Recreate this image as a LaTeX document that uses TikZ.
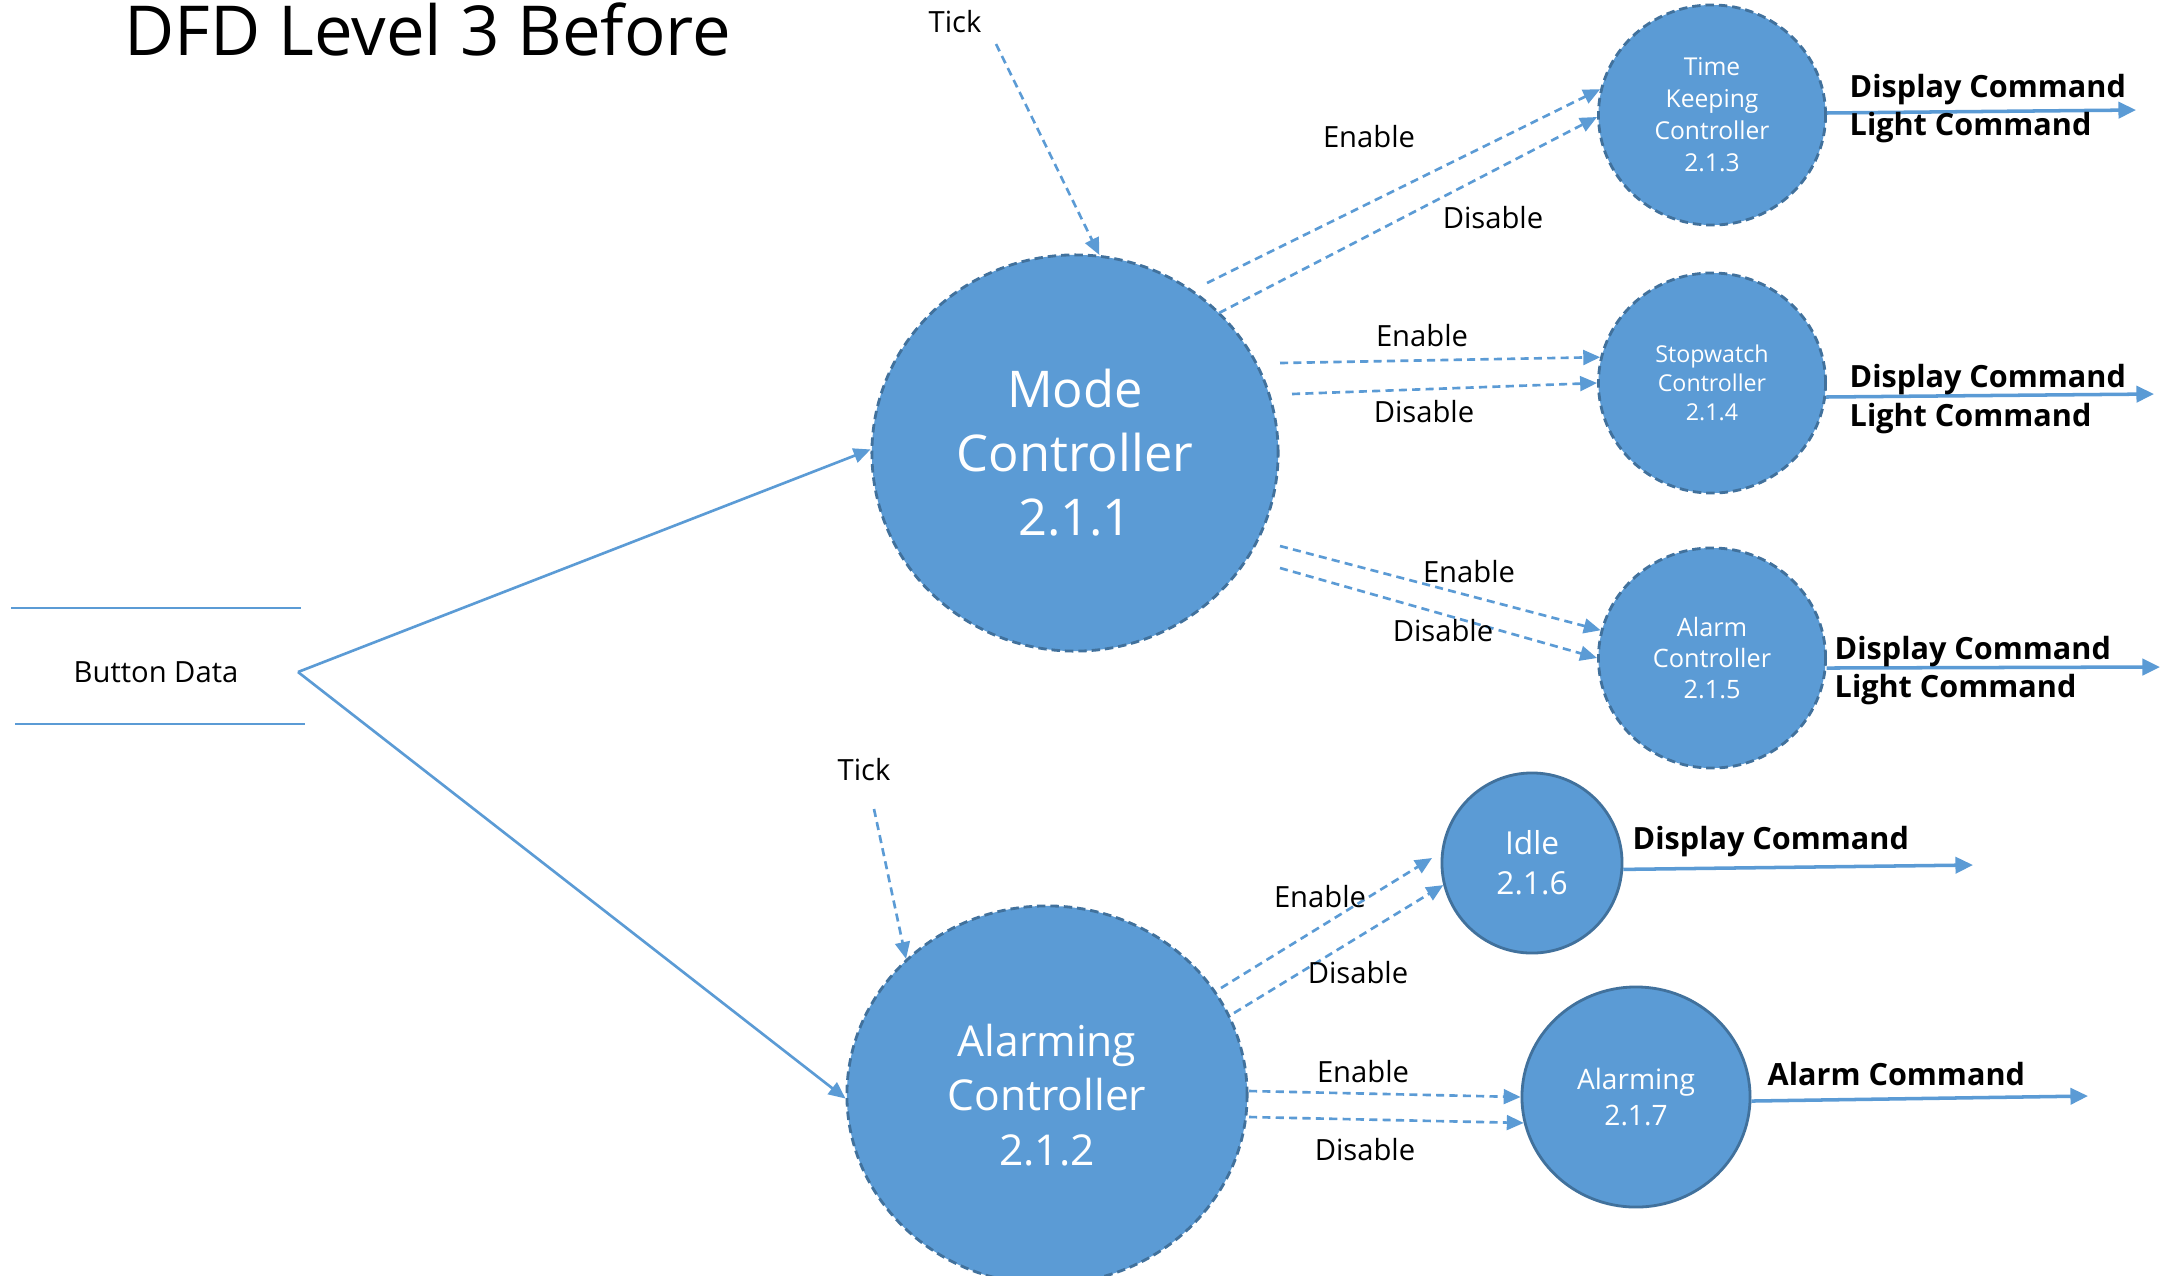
\documentclass[tikz,border=0pt]{standalone}
\usepackage{fontspec}
\setmainfont{Open Sans}
\usetikzlibrary{shapes.geometric,arrows.meta}
\definecolor{fillblue}{HTML}{5B9BD5}
\definecolor{edgeblue}{HTML}{41719C}
\tikzset{
  proc/.style={ellipse, fill=fillblue, draw=edgeblue, line width=0.8pt, dash pattern=on 2.4pt off 1.4pt, text=white, align=center, inner sep=0pt},
  solidproc/.style={proc, solid},
  flow/.style={draw=fillblue, line width=0.75pt, dash pattern=on 2.3pt off 1.5pt, -{Triangle[length=4.8pt,width=4.2pt]}},
  inflow/.style={draw=fillblue, line width=0.75pt, -{Triangle[length=4.8pt,width=4.2pt]}},
  outflow/.style={draw=fillblue, line width=1pt, -{Triangle[length=5pt,width=4.6pt]}},
  storeline/.style={draw=fillblue, line width=0.8pt},
  lbl/.style={font=\fontsize{8.3}{10}\selectfont, anchor=base, inner sep=0pt},
  cmd/.style={font=\bfseries\fontsize{8.7}{10}\selectfont, anchor=base west, inner sep=0pt}
}
\begin{document}
\begin{tikzpicture}[x=0.01cm, y=-0.01cm]
\clip (0,0) rectangle (2167,1275);
\fill[white] (0,0) rectangle (2167,1275);

% title
\node[anchor=base west, inner sep=0pt, font=\fontsize{19.6}{23}\selectfont] (title) at (124,55) {DFD Level 3 Before};

% processes
\node[proc, minimum width=4.06cm, minimum height=3.96cm, font=\fontsize{14.4}{18.2}\selectfont] (mode) at (1075,453) {Mode\\Controller\\2.1.1};
\node[proc, minimum width=4.0cm, minimum height=3.78cm, font=\fontsize{12.1}{15.4}\selectfont] (ac) at (1047,1095) {Alarming\\Controller\\2.1.2};
\node[proc, minimum width=2.27cm, minimum height=2.2cm, font=\fontsize{7}{9.1}\selectfont] (tk) at (1712,115) {Time\\Keeping\\Controller\\2.1.3};
\node[proc, minimum width=2.27cm, minimum height=2.2cm, font=\fontsize{6.6}{8.2}\selectfont] (sw) at (1712,383) {Stopwatch\\Controller\\2.1.4};
\node[proc, minimum width=2.27cm, minimum height=2.2cm, font=\fontsize{7.2}{8.9}\selectfont] (al) at (1712,658) {Alarm\\Controller\\2.1.5};
\node[solidproc, minimum width=1.8cm, minimum height=1.8cm, font=\fontsize{9}{11.4}\selectfont] (idle) at (1532,863) {Idle\\2.1.6};
\node[solidproc, minimum width=2.28cm, minimum height=2.2cm, font=\fontsize{8}{10}\selectfont] (alarm) at (1636,1097) {Alarming\\2.1.7};

% button data store
\draw[storeline] (11,608) -- (301,608);
\draw[storeline] (15,724) -- (305,724);
\node[lbl] (bd) at (156,682) {Button Data};
\coordinate (bdv) at (298,672);
\draw[inflow] (bdv) -- (mode.179);
\draw[inflow] (bdv) -- (ac.181);

% ticks
\node[lbl] (tick1) at (955,32) {Tick};
\node[lbl] (tick2) at (864,780) {Tick};
\coordinate (t1s) at (996,44);
\coordinate (t2s) at (874,809);
\draw[flow] (t1s) -- (mode.83);
\draw[flow] (t2s) -- (ac.136);

% mode -> time keeping
\coordinate (m1) at (1207,283);
\coordinate (m2) at (1219,313);
\draw[flow] (m1) -- (tk.167);
\draw[flow] (m2) -- (tk.181);
\node[lbl] at (1369,147) {Enable};
\node[lbl] at (1493,228) {Disable};

% mode -> stopwatch
\coordinate (m3) at (1280,363);
\coordinate (m4) at (1292,394);
\draw[flow] (m3) -- (sw.167);
\draw[flow] (m4) -- (sw.180);
\node[lbl] at (1422,346) {Enable};
\node[lbl] at (1424,422) {Disable};

% mode -> alarm
\coordinate (m5) at (1280,546);
\coordinate (m6) at (1280,568);
\draw[flow] (m5) -- (al.166);
\draw[flow] (m6) -- (al.180);
\node[lbl] at (1469,582) {Enable};
\node[lbl] at (1443,641) {Disable};

% alarming controller -> idle
\coordinate (a1) at (1221,988);
\coordinate (a2) at (1234,1013);
\coordinate (ie) at (1432,858);
\draw[flow] (a1) -- (ie);
\draw[flow] (a2) -- (idle.194);
\node[lbl] at (1320,907) {Enable};
\node[lbl] at (1358,983) {Disable};

% alarming controller -> alarming
\coordinate (a3) at (1249,1091);
\coordinate (a4) at (1249,1117);
\draw[flow] (a3) -- (alarm.180);
\draw[flow] (a4) -- (alarm.193);
\node[lbl] at (1363,1082) {Enable};
\node[lbl] at (1365,1160) {Disable};

% outputs
\coordinate (o1) at (2136,110);
\coordinate (o2) at (2154,394);
\coordinate (o3) at (2160,667);
\coordinate (o4) at (1973,865);
\coordinate (o5) at (2088,1096);
\draw[outflow] (tk.1) -- (o1);
\draw[outflow] (sw.353) -- (o2);
\draw[outflow] (al.355) -- (o3);
\draw[outflow] (idle.356) -- (o4);
\draw[outflow] (alarm.358) -- (o5);

\node[cmd] at (1849,97) {Display Command};
\node[cmd] at (1849,135) {Light Command};
\node[cmd] at (1849,387) {Display Command};
\node[cmd] at (1849,426) {Light Command};
\node[cmd] at (1834,659) {Display Command};
\node[cmd] at (1834,697) {Light Command};
\node[cmd] at (1632,849) {Display Command};
\node[cmd] at (1767,1085) {Alarm Command};
\end{tikzpicture}
\end{document}
